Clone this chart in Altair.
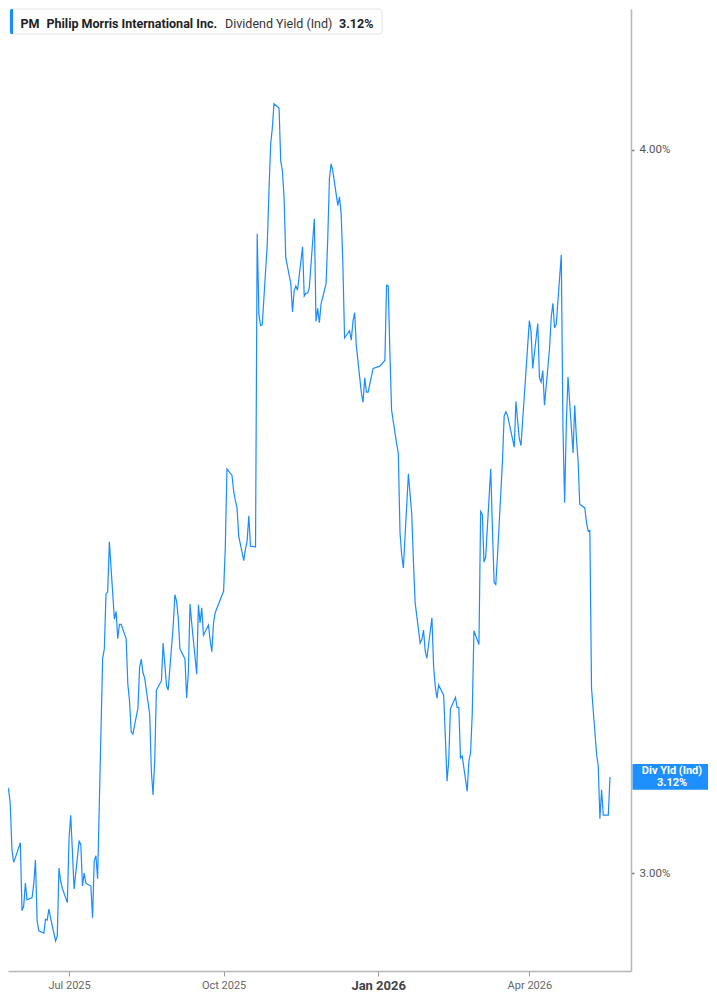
import altair as alt
import pandas as pd

# Dividend yield (%), one value per trading day, by segment
seg_may = [3.127, 3.116, 3.096, 3.033, 3.015, 3.021, 3.042, 2.948, 2.954, 2.986,
           2.963, 2.966, 2.985, 3.018, 2.934, 2.920, 2.917, 2.936, 2.935, 2.950,
           2.938, 2.906, 2.913, 3.007, 2.989, 2.979, 2.959]
seg_q3 = [3.048, 3.080, 3.030, 2.978, 3.044, 3.040, 2.982, 3.000, 2.986, 2.982,
          2.938, 3.017, 3.024, 2.992, 3.297, 3.310, 3.386, 3.389, 3.458, 3.351,
          3.362, 3.324, 3.344, 3.344, 3.324, 3.261, 3.238, 3.195, 3.192, 3.228,
          3.284, 3.296, 3.277, 3.270, 3.220, 3.141, 3.108, 3.155, 3.253, 3.266,
          3.318, 3.289, 3.259, 3.253, 3.342, 3.385, 3.376, 3.353, 3.310, 3.296,
          3.242, 3.277, 3.372, 3.346, 3.275, 3.371, 3.346, 3.367, 3.329, 3.343,
          3.322, 3.306, 3.346, 3.360]
seg_q4 = [3.390, 3.450, 3.559, 3.550, 3.528, 3.515, 3.505, 3.466, 3.432, 3.448,
          3.459, 3.494, 3.452, 3.451, 3.884, 3.773, 3.757, 3.758, 3.870, 3.943,
          4.008, 4.030, 4.064, 4.058, 3.985, 3.971, 3.934, 3.851, 3.815, 3.776,
          3.805, 3.812, 3.806, 3.866, 3.798, 3.802, 3.802, 3.809, 3.905, 3.763,
          3.781, 3.761, 3.787, 3.815, 3.878, 3.961, 3.981, 3.971, 3.923, 3.935,
          3.911, 3.842, 3.740, 3.750, 3.737, 3.763, 3.775, 3.729, 3.664, 3.651,
          3.685, 3.665, 3.665, 3.698]
seg_q1 = [3.701, 3.709, 3.813, 3.812, 3.718, 3.640, 3.594, 3.580, 3.471, 3.440,
          3.422, 3.552, 3.524, 3.496, 3.430, 3.374, 3.318, 3.323, 3.336, 3.307,
          3.297, 3.353, 3.286, 3.258, 3.242, 3.260, 3.246, 3.187, 3.127, 3.155,
          3.227, 3.243, 3.229, 3.229, 3.159, 3.162, 3.113, 3.155, 3.166, 3.220,
          3.335, 3.316, 3.500, 3.496, 3.430, 3.437, 3.559, 3.478, 3.402, 3.399,
          3.437, 3.570, 3.632, 3.638, 3.633, 3.622, 3.589, 3.652, 3.626, 3.601,
          3.591]
seg_q2 = [3.764, 3.749, 3.698, 3.760, 3.685, 3.679, 3.695, 3.647, 3.725, 3.768,
          3.788, 3.754, 3.759, 3.855, 3.615, 3.512, 3.622, 3.686, 3.581, 3.647,
          3.602, 3.570, 3.510, 3.505, 3.485, 3.473, 3.474, 3.256, 3.165, 3.148,
          3.075, 3.115, 3.080, 3.080, 3.133]

ticker = "PM"
company = "Philip Morris International Inc."
metric = "Dividend Yield (Ind)"
current = "3.12%"
tag_line1 = "Div Yld (Ind)"

frames = [pd.DataFrame({"date": pd.bdate_range(end="2025-06-30", periods=len(seg_may)),
                        "v": seg_may})]
for start, seg in [("2025-07-01", seg_q3), ("2025-10-01", seg_q4),
                   ("2026-01-02", seg_q1), ("2026-04-01", seg_q2)]:
    frames.append(pd.DataFrame({"date": pd.bdate_range(start=start, periods=len(seg)),
                                "v": seg}))
df = pd.concat(frames, ignore_index=True)
df["date"] = df["date"].dt.strftime("%Y-%m-%dT%H:%M:%S")
last = df.iloc[[-1]].copy()
one = pd.DataFrame({"a": [0]})

BLUE = "#1a8cff"
FONT = "Roboto"

x_enc = alt.X(
    "date:T",
    scale=alt.Scale(domain=[alt.DateTime(year=2025, month=5, date=25, hours=16),
                            alt.DateTime(year=2026, month=5, date=31, hours=12)]),
    axis=alt.Axis(
        values=[alt.DateTime(year=2025, month=7, date=1),
                alt.DateTime(year=2025, month=10, date=1),
                alt.DateTime(year=2026, month=1, date=1),
                alt.DateTime(year=2026, month=4, date=1)],
        format="%b %Y", title=None, grid=False,
        labelFont=FONT,
        labelFontSize={"expr": "month(datum.value) == 0 ? 13 : 11"},
        labelFontWeight={"expr": "month(datum.value) == 0 ? 'bold' : 'normal'"},
        labelColor={"expr": "month(datum.value) == 0 ? '#444444' : '#666666'"},
        labelPadding=3, tickSize=5, tickColor="#999999", tickWidth=1,
        domainColor="#b5b5b5", domainWidth=1.5,
    ),
)
y_enc = alt.Y(
    "v:Q",
    scale=alt.Scale(domain=[2.8645, 4.195], nice=False, zero=False),
    axis=alt.Axis(
        orient="right", values=[3.0, 4.0], title=None, grid=False,
        labelExpr="format(datum.value, '.2f') + '%'",
        labelFont=FONT, labelFontSize=11.5, labelColor="#555555",
        labelPadding=5, tickSize=3, tickColor="#777777", tickWidth=1.5,
        domainColor="#b5b5b5", domainWidth=1.5,
    ),
)

line = alt.Chart(df).mark_line(color=BLUE, strokeWidth=1.2, clip=True).encode(
    x=x_enc, y=y_enc)

header = alt.Chart(one).mark_rect(fill="white", stroke="#e2e2e2", strokeWidth=1,
                                  cornerRadius=3).encode(
    x=alt.value(2), x2=alt.value(374), y=alt.value(0), y2=alt.value(25))
bar = alt.Chart(one).mark_rect(fill=BLUE, cornerRadiusTopLeft=3,
                               cornerRadiusBottomLeft=3).encode(
    x=alt.value(2), x2=alt.value(5), y=alt.value(0), y2=alt.value(25))


def htext(txt, xpos, weight, color):
    return alt.Chart(one).mark_text(font=FONT, fontSize=12.5, fontWeight=weight,
                                    color=color, align="left",
                                    baseline="alphabetic").encode(
        x=alt.value(xpos), y=alt.value(19), text=alt.value(txt))


t1 = htext(ticker, 12.5, "bold", "#222222")
t2 = htext(company, 38.5, "bold", "#222222")
t3 = htext(metric, 217, "normal", "#333333")
t4 = htext(current, 331, "bold", "#222222")

tag = alt.Chart(last).mark_rect(color="#1e8fff", yOffset=-12.8, y2Offset=12.8).encode(
    x=alt.value(624.5), x2=alt.value(700), y=y_enc, y2=alt.Y2("v"))
tag1 = alt.Chart(last).mark_text(font=FONT, fontSize=11, fontWeight="bold",
                                 color="white", align="center", baseline="middle",
                                 dy=-5.5).encode(
    x=alt.value(664), y=y_enc, text=alt.value(tag_line1))
tag2 = alt.Chart(last).mark_text(font=FONT, fontSize=11, fontWeight="bold",
                                 color="white", align="center", baseline="middle",
                                 dy=6).encode(
    x=alt.value(664), y=y_enc, text=alt.value(current))

chart = alt.layer(line, header, bar, t1, t2, t3, t4, tag, tag1, tag2).properties(
    width=623, height=962,
    padding={"left": 0, "top": 0, "right": 0, "bottom": 0},
).configure_view(stroke=None)

chart.save("out.html", embed_options={"renderer": "svg", "actions": False})
